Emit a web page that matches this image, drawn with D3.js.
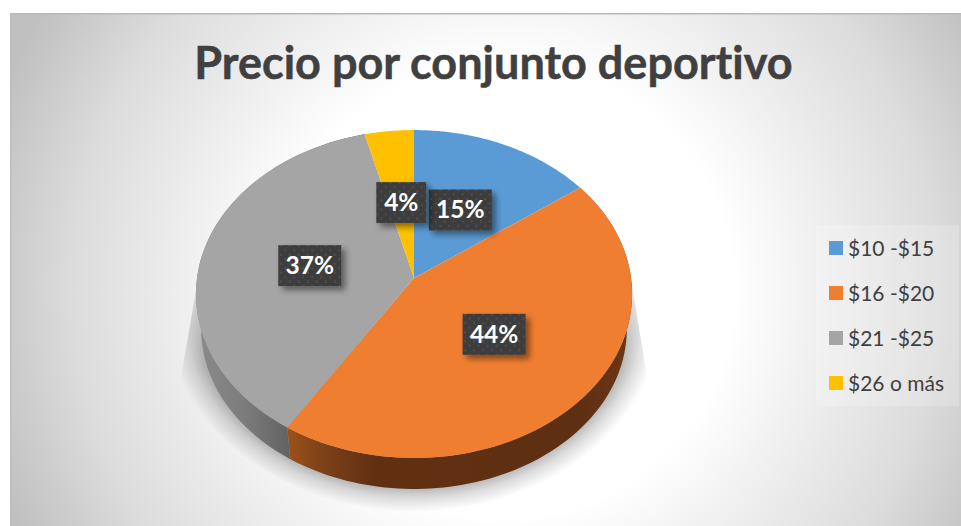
<!DOCTYPE html>
<html>
<head>
<meta charset="utf-8">
<script src="https://cdn.jsdelivr.net/npm/d3@7/dist/d3.min.js"></script>
<style>
html,body{margin:0;padding:0;background:#fff;overflow:hidden}
svg{display:block}
text{font-family:Lato,"Open Sans",sans-serif;font-variant-ligatures:none}
</style>
</head>
<body>
<svg id="chart" width="961" height="526"></svg>
<script>
// Chart data
const titleText = "Precio por conjunto deportivo";
const categories = ["$10 -$15", "$16 -$20", "$21 -$25", "$26 o más"];
const shares = [15, 44, 37, 4];
const colors = ["#5b9bd5", "#f07e31", "#a5a5a5", "#ffc000"];

const svg = d3.select("#chart");
const defs = svg.append("defs");

// Tilted disc: unit circle coordinates projected with a little perspective
const cx = 414, cy = 278, discX = 217, discY = 162.4, tilt = 0.0976;
const floorDrop = 35.3, floorScale = 0.976;
function project(angle, r, floor) {
  const u = r * Math.sin(angle), v = -r * Math.cos(angle);
  const w = 1 - tilt * v, s = floor ? floorScale : 1;
  return [cx + s * discX * u / w, cy + (floor ? floorDrop : 0) + s * discY * v / w];
}
const line = d3.line();
const arcPoints = (a0, a1, floor) =>
  d3.range(0, 101).map(i => project(a0 + (a1 - a0) * i / 100, 1, floor));

const slices = d3.pie().sort(null).value(d => d)(shares);

// Page background
const bg = defs.append("radialGradient").attr("id", "bg")
  .attr("gradientUnits", "userSpaceOnUse")
  .attr("cx", 505).attr("cy", 290).attr("r", 540);
[[0, "#ffffff"], [0.42, "#ffffff"], [0.6, "#eeeeee"], [0.8, "#dcdcdc"], [1, "#c0c0c0"]]
  .forEach(([o, c]) => bg.append("stop").attr("offset", o).attr("stop-color", c));
svg.append("rect").attr("x", 10).attr("y", 13).attr("width", 951).attr("height", 513).attr("fill", "url(#bg)");
svg.append("rect").attr("x", 10).attr("y", 13).attr("width", 951).attr("height", 1.5).attr("fill", "#b8b8b8");
svg.append("rect").attr("x", 10).attr("y", 13).attr("width", 1.5).attr("height", 513).attr("fill", "#bdbdbd");

// Cast shadow beneath the disc: a wedge on each side that merges into a soft halo under the wall
const halo = defs.append("radialGradient").attr("id", "halo")
  .attr("gradientUnits", "userSpaceOnUse")
  .attr("cx", 0).attr("cy", 0).attr("r", 1)
  .attr("gradientTransform", "translate(414 310) scale(248 202)");
[[0, 0.35], [0.86, 0.35], [0.93, 0.14], [1, 0]]
  .forEach(([o, a]) => halo.append("stop").attr("offset", o).attr("stop-color", "#000").attr("stop-opacity", a));
const fadeIn = defs.append("linearGradient").attr("id", "fadeIn")
  .attr("gradientUnits", "userSpaceOnUse").attr("x1", 0).attr("x2", 0).attr("y1", 285).attr("y2", 370);
[[0, "#555"], [1, "#fff"]].forEach(([o, c]) => fadeIn.append("stop").attr("offset", o).attr("stop-color", c));
defs.append("mask").attr("id", "shadowMask").attr("maskUnits", "userSpaceOnUse")
  .attr("x", 0).attr("y", 0).attr("width", 961).attr("height", 526)
  .append("rect").attr("width", 961).attr("height", 526).attr("fill", "url(#fadeIn)");
const shadowArc = d3.range(0, 101).map(i => {
  const a = Math.PI * i / 100;
  return [414 + 248 * Math.cos(a), 310 + 202 * Math.sin(a)];
}).filter(p => p[1] >= 375);
svg.append("path")
  .attr("d", line([[632, 285], ...shadowArc, [197, 285]]) + "Z")
  .attr("fill", "url(#halo)").attr("mask", "url(#shadowMask)");

// Side wall shading
const wallStops = [
  { id: "wallGray", x1: 200, x2: 290, stops: [[0, "#8a8a8a"], [0.5, "#7c7c7c"], [1, "#626262"]] },
  { id: "wallOrange", x1: 288, x2: 632, stops: [[0, "#9c5219"], [0.1, "#7d4118"], [0.25, "#613012"], [0.85, "#5f2f13"], [1, "#6d3716"]] }
];
wallStops.forEach(g => {
  const lg = defs.append("linearGradient").attr("id", g.id).attr("gradientUnits", "userSpaceOnUse")
    .attr("x1", g.x1).attr("x2", g.x2).attr("y1", 0).attr("y2", 0);
  g.stops.forEach(([o, c]) => lg.append("stop").attr("offset", o).attr("stop-color", c));
});
const wallFill = { 1: "url(#wallOrange)", 2: "url(#wallGray)" };
svg.append("g").selectAll("path").data(slices.filter(s => wallFill[s.index])).join("path")
  .attr("d", s => line([...arcPoints(s.startAngle, s.endAngle, false), ...arcPoints(s.endAngle, s.startAngle, true)]) + "Z")
  .attr("fill", s => wallFill[s.index]);

// Top faces
svg.append("g").selectAll("path").data(slices).join("path")
  .attr("d", s => line([project(0, 0, false), ...arcPoints(s.startAngle, s.endAngle, false)]) + "Z")
  .attr("fill", (s, i) => colors[i]);

// Dotted fill of the value labels
const dots = defs.append("pattern").attr("id", "dots").attr("patternUnits", "userSpaceOnUse").attr("width", 9).attr("height", 9);
dots.append("rect").attr("width", 9).attr("height", 9).attr("fill", "#3d3d3d");
dots.append("circle").attr("cx", 2.5).attr("cy", 2.5).attr("r", 1).attr("fill", "#555");
dots.append("circle").attr("cx", 7).attr("cy", 7).attr("r", 1).attr("fill", "#555");
const labelShadow = defs.append("filter").attr("id", "labelShadow").attr("x", "-30%").attr("y", "-30%").attr("width", "170%").attr("height", "170%");
labelShadow.append("feDropShadow").attr("dx", 4).attr("dy", 4).attr("stdDeviation", 3)
  .attr("flood-color", "#000").attr("flood-opacity", 0.45);

// Value labels sit about halfway out along each slice's mid angle
const labelW = s => s.value < 10 ? 50 : 63;
const labels = svg.append("g").selectAll("g").data(slices).join("g")
  .attr("transform", s => {
    const [x, y] = project((s.startAngle + s.endAngle) / 2, 0.49, false);
    return `translate(${x},${y})`;
  });
labels.append("rect")
  .attr("x", s => -labelW(s) / 2).attr("y", -20.5)
  .attr("width", labelW).attr("height", 41)
  .attr("fill", "url(#dots)").attr("filter", "url(#labelShadow)");
labels.append("text").attr("text-anchor", "middle").attr("y", 8.5)
  .attr("font-size", 24.5).attr("font-weight", 700).attr("fill", "#fff")
  .text(s => d3.format(".0f")(s.value) + "%");

// Title
svg.append("text").attr("x", 493.5).attr("y", 78.5).attr("text-anchor", "middle")
  .attr("font-size", 45).attr("font-weight", 700).attr("fill", "#404040")
  .attr("stroke", "#404040").attr("stroke-width", 0.5).text(titleText);

// Legend
svg.append("rect").attr("x", 816).attr("y", 225).attr("width", 143).attr("height", 181)
  .attr("fill", "#fff").attr("fill-opacity", 0.2);
const rowY = d3.scalePoint().domain(categories).range([248, 383]);
const rows = svg.append("g").selectAll("g").data(categories).join("g")
  .attr("transform", d => `translate(829,${rowY(d)})`);
rows.append("rect").attr("y", -7).attr("width", 14).attr("height", 14).attr("fill", (d, i) => colors[i]);
rows.append("text").attr("x", 19).attr("y", 7.5).attr("font-size", 21).attr("fill", "#404040").text(d => d);
</script>
</body>
</html>
